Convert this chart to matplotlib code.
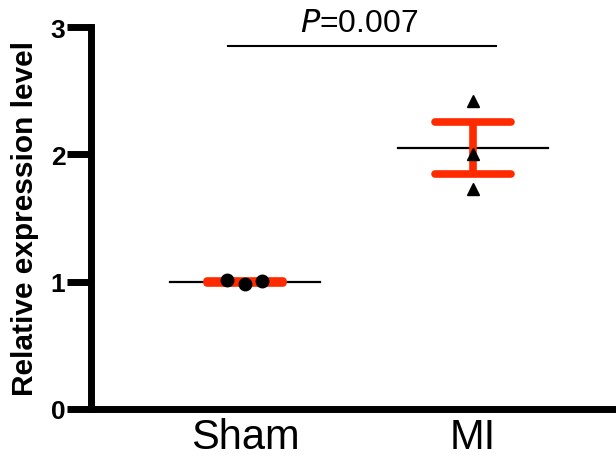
import matplotlib
matplotlib.use("Agg")
import matplotlib.pyplot as plt
import numpy as np

plt.rcParams['font.family'] = ['Liberation Sans', 'DejaVu Sans']

# data
groups = ["Sham", "MI"]
sham_values = [1.012, 0.985, 1.003]
mi_values = [2.42, 2.003, 1.728]
sham_jitter = [-0.08, 0.0, 0.075]
mi_jitter = [0.0, 0.0, 0.0]
p_text = "0.007"

red = "#ff2a00"

fig = plt.figure(figsize=(6.16, 4.6), dpi=100)
ax = fig.add_axes([91 / 616, 1 - 410 / 460, 1 - 91 / 616, (410 - 28) / 460])

series = [(sham_values, sham_jitter, "o"), (mi_values, mi_jitter, "^")]
for i, (vals, jit, mk) in enumerate(series):
    vals = np.asarray(vals)
    mean = vals.mean()
    sem = vals.std(ddof=1) / np.sqrt(len(vals))
    # mean line
    ax.plot([i - 0.33, i + 0.33], [mean, mean], color="black", lw=1.6, zorder=2)
    # SEM error bar
    ax.plot([i, i], [mean - sem, mean + sem], color=red, lw=5.5, zorder=3,
            solid_capstyle="butt")
    for y in (mean - sem, mean + sem):
        ax.plot([i - 0.165, i + 0.165], [y, y], color=red, lw=5.5, zorder=3,
                solid_capstyle="round")
    ax.plot(i + np.asarray(jit), vals, linestyle="none", marker=mk,
            color="black", markersize=9 if mk == "o" else 8.5, zorder=4)

# significance bar
ax.plot([-0.075, 1.1], [2.85, 2.85], color="black", lw=1.5, clip_on=False)
ax.text(0.5, 2.915, "$\\it{P}$=" + p_text, ha="center", va="bottom",
        fontsize=23, clip_on=False)

ax.set_xlim(-0.675, 1.627)
ax.set_ylim(0, 3)
ax.set_yticks([0, 1, 2, 3])
ax.set_yticklabels(["0", "1", "2", "3"], fontsize=19, fontweight="bold")
ax.set_xticks([0, 1])
ax.set_xticklabels(groups, fontsize=30)
ax.tick_params(axis="x", length=0, pad=6)
ax.tick_params(axis="y", length=17, width=5, pad=1.5)
ax.set_ylabel("Relative expression level", fontsize=21.5, fontweight="bold",
              labelpad=8)

for s in ["top", "right"]:
    ax.spines[s].set_visible(False)
for s in ["left", "bottom"]:
    ax.spines[s].set_linewidth(5)

fig.savefig("out.png", dpi=100)
